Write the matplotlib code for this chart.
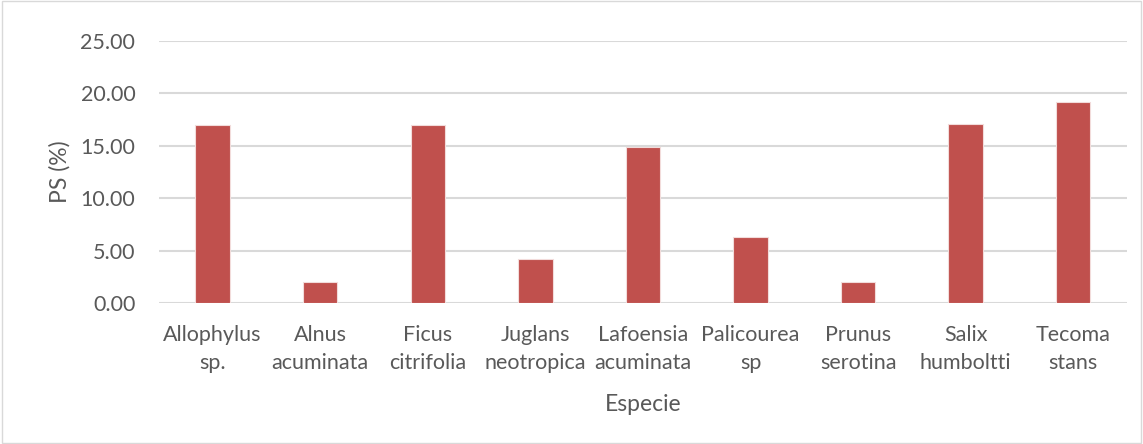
import matplotlib
matplotlib.use("Agg")
import matplotlib.pyplot as plt
import numpy as np

especies = ["Allophylus\nsp.", "Alnus\nacuminata", "Ficus\ncitrifolia", "Juglans\nneotropica",
            "Lafoensia\nacuminata", "Palicourea\nsp", "Prunus\nserotina", "Salix\nhumboltti", "Tecoma\nstans"]
ps = [17.01, 2.06, 17.00, 4.23, 14.89, 6.33, 2.06, 17.08, 19.14]
yticks = [0, 5, 10, 15, 20, 25]

plt.rcParams['font.family'] = ['Lato', 'DejaVu Sans']
gris = '#595959'

fig = plt.figure(figsize=(11.43, 4.44), dpi=100)
ax = fig.add_axes([0.139, 0.317, 0.847, 0.591])

x = np.arange(len(especies))
ax.bar(x, ps, width=0.32, color='#C0504D', edgecolor='#F2DCDB', linewidth=0.8, zorder=3)

ax.set_xlim(-0.5, len(especies) - 0.5)
ax.set_ylim(0, 25)
ax.set_yticks(yticks)
ax.set_yticklabels([f"{v:.2f}" for v in yticks])
ax.set_xticks(x)
ax.set_xticklabels(especies, linespacing=1.5)
ax.tick_params(length=0, labelsize=15.5, colors=gris)
ax.tick_params(axis='x', pad=16)
ax.tick_params(axis='y', pad=17)
ax.grid(axis='y', color='#D9D9D9', linewidth=1.5, zorder=0)
for s in ax.spines.values():
    s.set_visible(False)

ax.set_xlabel("Especie", fontsize=16.5, color=gris)
ax.xaxis.set_label_coords(0.5, -0.345)
# titulo del eje y puesto a mano, junto a las etiquetas
fig.text(0.0525, 0.6126, "PS (%)", fontsize=16.5, color=gris, rotation=90,
         ha='center', va='center', rotation_mode='anchor')

# marco del grafico
fig.patches.append(plt.Rectangle((0.002, 0.003), 0.996, 0.994, transform=fig.transFigure,
                                 fill=False, edgecolor='#D9D9D9', linewidth=1))

fig.savefig("out.png", dpi=100)
